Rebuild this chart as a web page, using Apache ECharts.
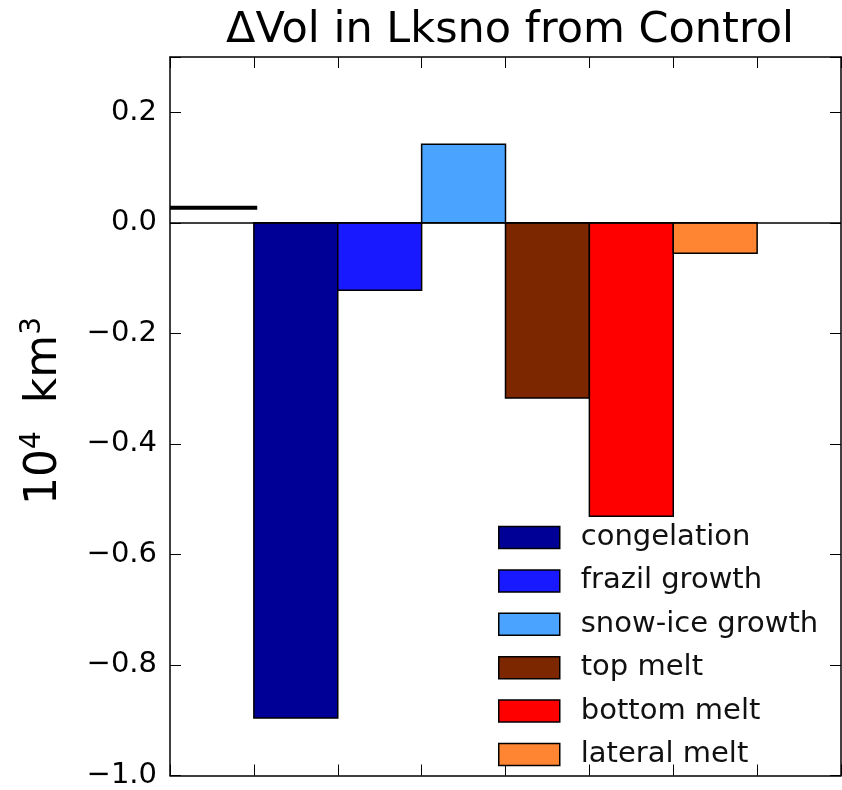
<!DOCTYPE html>
<html>
<head>
<meta charset="utf-8">
<script src="https://cdn.jsdelivr.net/npm/echarts@6/dist/echarts.min.js"></script>
<style>html,body{margin:0;padding:0;background:#fff}#c{width:842px;height:790px}</style>
</head>
<body>
<div id="c"></div>
<script>
const categories = ['congelation', 'frazil growth', 'snow-ice growth', 'top melt', 'bottom melt', 'lateral melt'];
const values = [-0.896, -0.122, 0.142, -0.317, -0.531, -0.055];
const colors = ['#000096', '#1919ff', '#49a3ff', '#7c2700', '#ff0000', '#ff8533'];
const netValue = 0.0274;
const netSpan = [0, 1.04];
const yTicks = [-1.0, -0.8, -0.6, -0.4, -0.2, 0.0, 0.2];

const chart = echarts.init(document.getElementById('c'));
const FONT = 'DejaVu Sans';

const barSeries = categories.map((name, i) => ({
  name: name,
  type: 'custom',
  xAxisIndex: 0,
  yAxisIndex: 0,
  itemStyle: { color: colors[i], borderColor: '#000', borderWidth: 1.5 },
  data: [[i + 1, values[i]]],
  renderItem: function (params, api) {
    const x0 = api.value(0);
    const v = api.value(1);
    const p0 = api.coord([x0, 0]);
    const p1 = api.coord([x0 + 1, v]);
    return {
      type: 'rect',
      shape: {
        x: Math.min(p0[0], p1[0]),
        y: Math.min(p0[1], p1[1]),
        width: Math.abs(p1[0] - p0[0]),
        height: Math.abs(p1[1] - p0[1])
      },
      style: { fill: api.visual('color'), stroke: '#000', lineWidth: 1.5 }
    };
  },
  z: 2
}));

const yFmt = function (v) {
  const hit = yTicks.some(t => Math.abs(t - v) < 1e-6);
  if (!hit) return '';
  return v.toFixed(1).replace('-', '\u2212');
};

function axisCommon() {
  return {
    axisLine: { show: true, onZero: false, lineStyle: { color: '#000', width: 1.5 } },
    axisTick: { show: true, inside: true, length: 11, lineStyle: { color: '#000', width: 1 } },
    splitLine: { show: false }
  };
}

chart.setOption({
  animation: false,
  backgroundColor: '#fff',
  title: {
    text: '\u0394Vol in Lksno from Control',
    left: 505, top: 4, textAlign: 'center',
    textStyle: { fontFamily: FONT, fontSize: 43, fontWeight: 'normal', color: '#000' }
  },
  grid: { left: 170, top: 57, right: 1, bottom: 12 },
  xAxis: [
    Object.assign({ type: 'value', position: 'bottom', min: 0, max: 8, interval: 1,
      axisLabel: { show: false } }, axisCommon()),
    Object.assign({ type: 'value', position: 'top', min: 0, max: 8, interval: 1,
      axisLabel: { show: false } }, axisCommon())
  ],
  yAxis: [
    Object.assign({ type: 'value', position: 'left', min: -1.0, max: 0.3, interval: 0.2,
      axisLabel: { show: true, formatter: yFmt, margin: 13, fontFamily: FONT, fontSize: 29, color: '#000' } }, axisCommon()),
    Object.assign({ type: 'value', position: 'right', min: -1.0, max: 0.3, interval: 0.2,
      axisLabel: { show: false } }, axisCommon())
  ],
  legend: {
    data: categories,
    orient: 'vertical',
    left: 498, top: 523,
    padding: 0,
    icon: 'rect',
    itemWidth: 61, itemHeight: 22, itemGap: 14.4,
    itemStyle: { borderColor: '#000', borderWidth: 1.5 },
    textStyle: { fontFamily: FONT, fontSize: 29, color: '#111', padding: [0, 0, 0, 16] }
  },
  graphic: [{
    type: 'text',
    x: 45, y: 411,
    rotation: Math.PI / 2,
    style: {
      text: '{b|10}{s|4}{b|  km}{s|3}',
      align: 'center', verticalAlign: 'middle',
      fill: '#000',
      rich: {
        b: { fontFamily: FONT, fontSize: 44, lineHeight: 52, fill: '#000' },
        s: { fontFamily: FONT, fontSize: 28, lineHeight: 28, verticalAlign: 'top', fill: '#000' }
      }
    }
  }],
  series: barSeries.concat([{
    name: 'net',
    type: 'line',
    xAxisIndex: 0, yAxisIndex: 0,
    data: [[netSpan[0], netValue], [netSpan[1], netValue]],
    symbol: 'none',
    lineStyle: { color: '#000', width: 4 },
    silent: true,
    z: 3,
    markLine: {
      silent: true, symbol: 'none', label: { show: false },
      lineStyle: { color: '#000', width: 1.5, type: 'solid' },
      data: [{ yAxis: 0 }]
    }
  }])
});
</script>
</body>
</html>
